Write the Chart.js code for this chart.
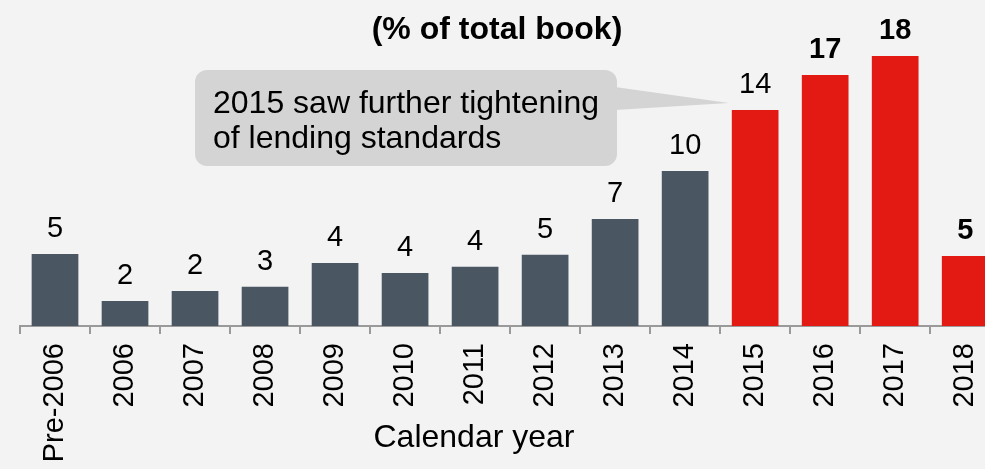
<!DOCTYPE html>
<html>
<head>
<meta charset="utf-8">
<script src="https://cdn.jsdelivr.net/npm/chart.js@4.4.0/dist/chart.umd.min.js"></script>
<style>
  html, body { margin: 0; padding: 0; background: #f3f3f3; overflow: hidden; }
  #wrap { position: relative; width: 1009px; height: 469px; }
</style>
</head>
<body>
<div id="wrap"><canvas id="chart"></canvas></div>
<script>
const categories = ['Pre-2006', '2006', '2007', '2008', '2009', '2010', '2011',
                    '2012', '2013', '2014', '2015', '2016', '2017', '2018'];
// share of total book, %
const shares = [4.8, 1.67, 2.33, 2.62, 4.2, 3.53, 3.95, 4.75, 7.13, 10.33, 14.4, 16.73, 18.0, 4.67];
const highlightedYears = ['2015', '2016', '2017', '2018'];
const boldLabelYears = ['2016', '2017', '2018'];
const chartTitle = '(% of total book)';
const axisTitle = 'Calendar year';
const noteYear = '2015';
const noteLines = ['2015 saw further tightening', 'of lending standards'];

const FONT = '"Liberation Sans", Arial, Helvetica, sans-serif';
const DARK = '#4a5661';
const RED = '#e31a14';

// value labels, callout and titles
const overlay = {
  id: 'overlay',
  afterDatasetsDraw(chart) {
    const ctx = chart.ctx;
    const bars = chart.getDatasetMeta(0).data;
    ctx.save();
    ctx.fillStyle = '#000';
    ctx.textAlign = 'center';
    ctx.textBaseline = 'alphabetic';
    bars.forEach((bar, i) => {
      const bold = boldLabelYears.includes(categories[i]);
      ctx.font = (bold ? 'bold ' : '') + '29px ' + FONT;
      ctx.fillText(String(Math.round(shares[i])), bar.x, bar.y - 17);
    });

    // callout box pointing at the 2015 bar
    const target = bars[categories.indexOf(noteYear)];
    const tipX = target.x - target.width / 2 - 3;
    const tipY = target.y - 7;
    const bx = 195, by = 70, bw = 422, bh = 96;
    ctx.fillStyle = '#d4d4d4';
    ctx.beginPath();
    ctx.roundRect(bx, by, bw, bh, 12);
    ctx.fill();
    ctx.beginPath();
    ctx.moveTo(bx + bw - 2, by + 17);
    ctx.lineTo(tipX, tipY);
    ctx.lineTo(bx + bw - 2, by + 40);
    ctx.closePath();
    ctx.fill();

    ctx.fillStyle = '#000';
    ctx.textAlign = 'left';
    ctx.font = '32px ' + FONT;
    noteLines.forEach((line, i) => ctx.fillText(line, bx + 18, by + 43 + i * 35));

    ctx.textAlign = 'center';
    ctx.font = 'bold 32px ' + FONT;
    ctx.fillText(chartTitle, 497, 39);
    ctx.font = '32px ' + FONT;
    ctx.fillText(axisTitle, 474, 447);
    ctx.restore();
  }
};

new Chart(document.getElementById('chart'), {
  type: 'bar',
  data: {
    labels: categories,
    datasets: [{
      data: shares,
      backgroundColor: categories.map(c => highlightedYears.includes(c) ? RED : DARK),
      barPercentage: 0.667,
      categoryPercentage: 1
    }]
  },
  options: {
    responsive: true,
    maintainAspectRatio: false,
    animation: false,
    layout: { padding: { top: 26, left: 20, right: 0, bottom: 0 } },
    plugins: {
      legend: { display: false },
      tooltip: { enabled: false }
    },
    scales: {
      y: { display: false, min: 0, max: 20 },
      x: {
        grid: { offset: true, drawOnChartArea: false, color: '#9a9a9a', lineWidth: 2, tickLength: 8 },
        border: { color: '#9a9a9a', width: 2 },
        ticks: {
          color: '#000',
          font: { family: FONT, size: 29 },
          minRotation: 90,
          maxRotation: 90,
          padding: 9,
          autoSkip: false
        },
        afterFit(scale) { scale.height = 143; }
      }
    }
  },
  plugins: [overlay]
});
</script>
</body>
</html>
